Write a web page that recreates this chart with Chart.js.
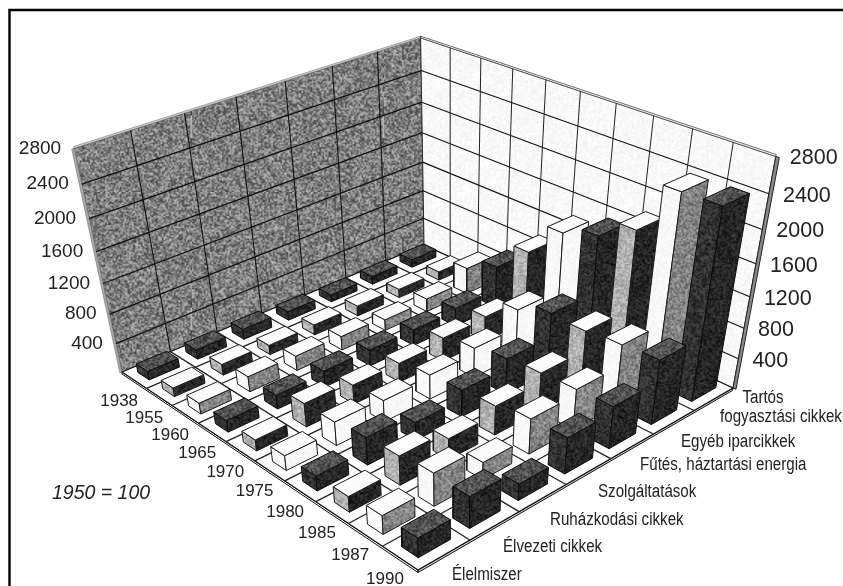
<!DOCTYPE html>
<html><head><meta charset="utf-8">
<style>html,body{margin:0;padding:0;background:#fff}canvas{display:block}</style>
<script src="https://cdn.jsdelivr.net/npm/chart.js@4"></script></head>
<body><canvas id="c" width="843" height="586"></canvas>
<script>
// ---- data ----
const years = ['1938','1955','1960','1965','1970','1975','1980','1985','1987','1990'];
const categories = ['Élelmiszer','Élvezeti cikkek','Ruházkodási cikkek','Szolgáltatások','Fűtés, háztartási energia','Egyéb iparcikkek','Tartós fogyasztási cikkek'];
const valueTicks = [400,800,1200,1600,2000,2400,2800];
const elelmiszer     = [120,120,150,160,150,200,200,210,250,260];
const elvezeti       = [130,150,210,190,320,320,370,390,440,420];
const ruhazkodasi    = [140,130,200,220,260,290,240,280,230,220];
const szolgaltatasok = [120,140,190,220,260,330,360,390,470,480];
const futes          = [100,140,150,220,320,400,480,520,540,560];
const egyeb          = [110,120,180,250,340,640,800,780,820,850];
const tartos         = [110,120,360,570,960,1390,1530,1780,2390,2400];
const series = [elelmiszer,elvezeti,ruhazkodasi,szolgaltatasok,futes,egyeb,tartos];
const note = '1950 = 100';

// ---- camera: floor and wall corners of the box ----
const L={x:122,y:372},F={x:418,y:570},R={x:733,y:388},B={x:424,y:245};
const Lt={x:74,y:143},Bt={x:423,y:33},Rt={x:773,y:168};
const MAXV=2800;
const dx1=F.x-R.x,dx2=B.x-R.x,sx=L.x-F.x+R.x-B.x,dy1=F.y-R.y,dy2=B.y-R.y,sy=L.y-F.y+R.y-B.y;
const den=dx1*dy2-dx2*dy1,g=(sx*dy2-dx2*sy)/den,h=(dx1*sy-sx*dy1)/den;
const a=F.x-L.x+g*F.x,b=B.x-L.x+h*B.x,c=L.x,d=F.y-L.y+g*F.y,e=B.y-L.y+h*B.y,f=L.y;
function solveVertical(){
  const rows=[],rhs=[];
  [[Lt,0,0],[Bt,0,1],[Rt,1,1]].forEach(([p,u,v])=>{
    const W=g*u+h*v+1;
    rows.push([1,0,-p.x]);rhs.push(p.x*W-(a*u+b*v+c));
    rows.push([0,1,-p.y]);rhs.push(p.y*W-(d*u+e*v+f));
  });
  const M=[[0,0,0,0],[0,0,0,0],[0,0,0,0]];
  rows.forEach((r,n)=>{for(let i=0;i<3;i++){for(let j=0;j<3;j++)M[i][j]+=r[i]*r[j];M[i][3]+=r[i]*rhs[n];}});
  for(let i=0;i<3;i++){
    for(let k=i+1;k<3;k++){const m=M[k][i]/M[i][i];for(let j=i;j<4;j++)M[k][j]-=m*M[i][j];}
  }
  const s=[0,0,0];
  for(let i=2;i>=0;i--){let t=M[i][3];for(let j=i+1;j<3;j++)t-=M[i][j]*s[j];s[i]=t/M[i][i];}
  return s;
}
const [cz,fz,kz]=solveVertical();
function P(u,v,val){
  const t=val/MAXV,W=g*u+h*v+1+kz*t;
  return {x:(a*u+b*v+c+cz*t)/W,y:(d*u+e*v+f+fz*t)/W};
}

// ---- textures: fine photocopy grain ----
function tile(base,amp,seed){
  const n=128,cv=document.createElement('canvas');cv.width=cv.height=n;
  const x=cv.getContext('2d'),im=x.createImageData(n,n);let s=seed;
  for(let i=0;i<n*n;i++){
    s=(s*1664525+1013904223)>>>0;const r=((s>>>16)&255)/255-.5;
    let v=base+r*amp*2;v=Math.max(0,Math.min(255,v));
    im.data[i*4]=im.data[i*4+1]=im.data[i*4+2]=v;im.data[i*4+3]=255;
  }
  x.putImageData(im,0,0);
  const big=document.createElement('canvas');big.width=big.height=n*1.5;
  const bx=big.getContext('2d');bx.imageSmoothingEnabled=true;bx.drawImage(cv,0,0,n*1.5,n*1.5);
  return bx.createPattern(big,'repeat');
}
const pxWhite=tile(249,7,3),pxWall=tile(128,62,11),pxWallR=tile(250,9,19),
  pxDarkTop=tile(84,40,23),pxDarkL=tile(50,28,29),pxDarkR=tile(38,26,31),
  pxGrayL=tile(178,34,37),pxMidR=tile(132,42,41),pxWhiteTop=tile(252,3,43);
const dark={top:pxDarkTop,l:pxDarkL,r:pxDarkR};
const gray={top:pxWhiteTop,l:pxGrayL,r:pxDarkR};
const white={top:pxWhiteTop,l:pxWhite,r:pxMidR};
const blank={top:pxWhiteTop,l:pxWhite,r:pxWhite};
const rowStyle=[dark,gray,white,dark,gray,blank,dark,gray,white,dark];

// ---- datasets in paint order ----
const paint=[];
function poly(pts,fillC,line,w){
  paint.push({type:'scatter',showLine:true,data:[...pts,pts[0]],fill:fillC?'shape':false,
    backgroundColor:fillC||'transparent',borderColor:line||'#111',borderWidth:w==null?1:w,
    pointRadius:0,tension:0,clip:false});
}
function seg(p,q,line,w){
  paint.push({type:'scatter',showLine:true,data:[p,q],fill:false,borderColor:line||'#111',
    borderWidth:w==null?1:w,pointRadius:0,tension:0,clip:false});
}
const THICK=34, EDGE=.006, EDGE_R=.008;
// walls
poly([P(0,0,0),P(0,1,0),P(0,1,MAXV),P(0,0,MAXV)],pxWall,'#444',.8);
poly([P(0,1,0),P(1,1,0),P(1,1,MAXV),P(0,1,MAXV)],pxWallR,'#222',1);
poly([P(0,-EDGE,0),P(0,0,0),P(0,0,MAXV),P(0,-EDGE,MAXV)],'#a8a8a8','#777',.6);
poly([P(1,1,0),P(1+EDGE_R,1,0),P(1+EDGE_R,1,MAXV),P(1,1,MAXV)],'#8a8a8a','#222',1);
poly([P(0,0,MAXV),P(0,1,MAXV),P(0,1,MAXV+20),P(0,0,MAXV+20)],'#d0d0d0','#777',.6);
poly([P(0,1,MAXV),P(1,1,MAXV),P(1,1,MAXV+20),P(0,1,MAXV+20)],'#ffffff','#444',.8);
valueTicks.forEach(v=>{ if(v<MAXV){ seg(P(0,0,v),P(0,1,v),'#111',1.2); seg(P(0,1,v),P(1,1,v),'#111',1.1);} });
for(let j=1;j<7;j++) seg(P(0,j/7,0),P(0,j/7,MAXV),'#111',1.1);
for(let i=1;i<10;i++) seg(P(i/10,1,0),P(i/10,1,MAXV),'#222',1);
// floor slab
poly([P(0,0,0),P(1,0,0),P(1,0,-THICK),P(0,0,-THICK)],'#ffffff','#111',1);
poly([P(1,0,0),P(1,1,0),P(1,1,-THICK),P(1,0,-THICK)],'#cfcfcf','#111',1);
poly([P(0,0,0),P(1,0,0),P(1,1,0),P(0,1,0)],'#ffffff','#111',1.2);
for(let i=1;i<10;i++) seg(P(i/10,0,0),P(i/10,1,0),'#222',1.3);
for(let j=1;j<7;j++) seg(P(0,j/7,0),P(1,j/7,0),'#222',1.3);
// bars, far to near
const BU=.46,BV=.62;
for(let i=0;i<years.length;i++){
  for(let j=categories.length-1;j>=0;j--){
    const val=series[j][i],st=rowStyle[i];
    const u0=(i+.5-BU/2)/10,u1=(i+.5+BU/2)/10,v0=(j+.5-BV/2)/7,v1=(j+.5+BV/2)/7;
    const edge=st===dark?'#0c0c0c':'#1c1c1c';
    poly([P(u0,v0,0),P(u1,v0,0),P(u1,v0,val),P(u0,v0,val)],st.l,edge,1);
    poly([P(u1,v0,0),P(u1,v1,0),P(u1,v1,val),P(u1,v0,val)],st.r,edge,1);
    poly([P(u0,v0,val),P(u1,v0,val),P(u1,v1,val),P(u0,v1,val)],st.top,edge,1);
  }
}
// frame
paint.push({type:'scatter',showLine:true,data:[{x:9.5,y:586},{x:9.5,y:10},{x:843,y:10}],fill:false,
  borderColor:'#000',borderWidth:2.4,pointRadius:0,tension:0,clip:false});

// ---- text ----
const SANS='"Liberation Sans",Arial,sans-serif';
const CONDENSE=.84;
const catLabelLayout=[[452,575],[503,547],[550,520],[598,492],[640,465],[681,442]];
const textPlugin={id:'labels',afterDraw(ch){
  const x=ch.scales.x,y=ch.scales.y,cx=ch.ctx;
  const put=(s,px,py,al)=>{cx.textAlign=al;cx.fillText(s,x.getPixelForValue(px),y.getPixelForValue(py));};
  const narrow=(s,px,py,al)=>{cx.save();cx.translate(x.getPixelForValue(px),y.getPixelForValue(py));cx.scale(CONDENSE,1);cx.textAlign=al;cx.fillText(s,0,0);cx.restore();};
  cx.save();cx.fillStyle='#222';cx.textBaseline='middle';
  cx.font='19px '+SANS;
  valueTicks.forEach(v=>{const p=P(0,0,v);put(String(v),p.x-13,p.y,'right');});
  cx.font='21.5px '+SANS;
  valueTicks.forEach(v=>{const p=P(1,1,v);put(String(v),p.x+14,p.y+2,'left');});
  cx.font='17px '+SANS;
  years.forEach((yr,i)=>{const p=P((i+.5)/10,0,0);put(yr,p.x-15,p.y+21,'center');});
  cx.font='18px '+SANS;
  catLabelLayout.forEach((r,i)=>narrow(categories[i],r[0],r[1],'left'));
  const words=categories[6].split(' ');
  narrow(words[0],763,398,'center');
  narrow(words.slice(1).join(' '),781,417,'center');
  cx.font='italic 19.5px '+SANS;
  put(note,52,494,'left');
  cx.restore();
}};

new Chart(document.getElementById('c'),{
  type:'scatter',
  data:{datasets:paint.slice().reverse()},
  options:{responsive:false,animation:false,events:[],layout:{padding:0},
    plugins:{legend:{display:false},tooltip:{enabled:false},title:{display:false}},
    scales:{x:{type:'linear',display:false,min:0,max:843},
            y:{type:'linear',display:false,min:0,max:586,reverse:true}}},
  plugins:[textPlugin]
});
</script></body></html>
